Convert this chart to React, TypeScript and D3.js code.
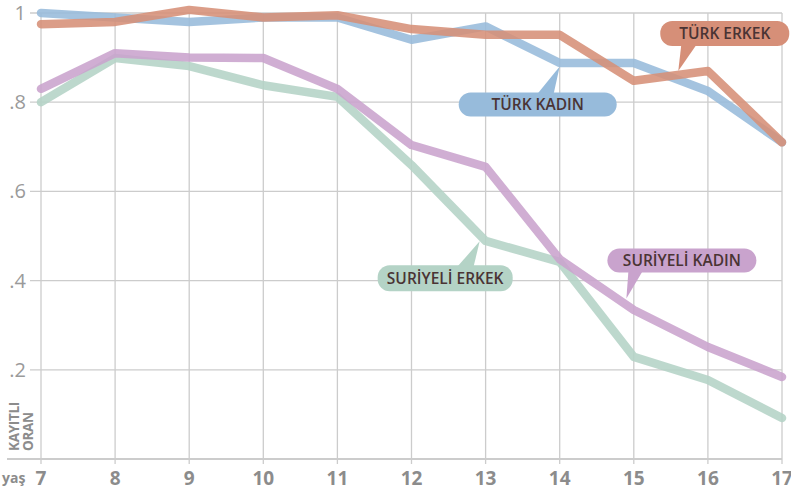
import React, { useEffect, useRef } from 'react';
import * as d3 from 'd3';

const ages = [7, 8, 9, 10, 11, 12, 13, 14, 15, 16, 17];
const turkKadin = [1.0, 0.99, 0.98, 0.99, 0.99, 0.94, 0.97, 0.888, 0.888, 0.825, 0.71];
const turkErkek = [0.975, 0.98, 1.007, 0.99, 0.995, 0.964, 0.951, 0.951, 0.848, 0.87, 0.71];
const suriyeliKadin = [0.83, 0.91, 0.9, 0.899, 0.83, 0.704, 0.655, 0.448, 0.334, 0.251, 0.184];
const suriyeliErkek = [0.8, 0.899, 0.881, 0.838, 0.812, 0.659, 0.489, 0.442, 0.229, 0.177, 0.092];
const yTicks = [0.2, 0.4, 0.6, 0.8, 1];
const yTickLabels = ['.2', '.4', '.6', '.8', '1'];

const series = [
  { name: 'TÜRK KADIN', values: turkKadin, color: '#97bbdb' },
  { name: 'TÜRK ERKEK', values: turkErkek, color: '#d68f78' },
  { name: 'SURİYELİ ERKEK', values: suriyeliErkek, color: '#b4d3c6' },
  { name: 'SURİYELİ KADIN', values: suriyeliKadin, color: '#c9a3cd' },
];

// callouts: tip in data units, box in pixels relative to tip
const callouts = [
  { name: 'TÜRK ERKEK', color: '#d68f78', tip: [15.6, 0.87], box: [-18, -50, 129, 25], base: [3, 18] },
  { name: 'TÜRK KADIN', color: '#97bbdb', tip: [14, 0.88], box: [-101, 26, 158, 24], base: [-22, -6] },
  { name: 'SURİYELİ ERKEK', color: '#b4d3c6', tip: [12.92, 0.488], box: [-102, 24, 135, 26], base: [-22, -6] },
  { name: 'SURİYELİ KADIN', color: '#c9a3cd', tip: [14.9, 0.36], box: [-19, -50, 149, 24], base: [2, 16] },
];

const W = 791;
const H = 493;
const FONT = '"Open Sans", sans-serif';

export default function App() {
  const ref = useRef<SVGSVGElement>(null);

  useEffect(() => {
    const svg = d3.select(ref.current);
    svg.selectAll('*').remove();

    const x = d3.scaleLinear().domain([7, 17]).range([41, 782]);
    const y = d3.scaleLinear().domain([0, 1]).range([459, 13]);

    // grid
    const grid = svg.append('g').attr('stroke', '#cccccc').attr('stroke-width', 1.3);
    grid.selectAll('line.v')
      .data(ages)
      .enter()
      .append('line')
        .attr('x1', (d) => x(d))
        .attr('x2', (d) => x(d))
        .attr('y1', y(1))
        .attr('y2', y(0) + 5);
    grid.selectAll('line.h')
      .data(yTicks)
      .enter()
      .append('line')
        .attr('x1', 30)
        .attr('x2', x(17))
        .attr('y1', (d) => y(d))
        .attr('y2', (d) => y(d));
    grid.append('line')
      .attr('x1', 7)
      .attr('x2', x(17))
      .attr('y1', y(0))
      .attr('y2', y(0))
      .attr('stroke-width', 2);

    // y labels
    svg.append('g')
      .selectAll('text')
      .data(yTicks)
      .enter()
      .append('text')
        .attr('x', 26)
        .attr('y', (d) => y(d) + 7)
        .attr('text-anchor', 'end')
        .attr('font-family', FONT)
        .attr('font-size', 20)
        .attr('fill', '#9a9a9a')
        .text((d, i) => yTickLabels[i]);

    // x labels
    svg.append('g')
      .selectAll('text')
      .data(ages)
      .enter()
      .append('text')
        .attr('x', (d) => x(d))
        .attr('y', 485)
        .attr('text-anchor', 'middle')
        .attr('font-family', FONT)
        .attr('font-weight', 700)
        .attr('font-size', 19)
        .attr('fill', '#8c8c8c')
        .text((d) => d);

    svg.append('text')
      .attr('x', 2)
      .attr('y', 483)
      .attr('font-family', FONT)
      .attr('font-weight', 700)
      .attr('font-size', 14)
      .attr('fill', '#8c8c8c')
      .text('yaş');

    const yl = svg.append('text')
      .attr('transform', 'translate(19,451) rotate(-90)')
      .attr('font-family', FONT)
      .attr('font-weight', 700)
      .attr('font-size', 13.5)
      .attr('letter-spacing', -0.3)
      .attr('fill', '#8c8c8c');
    yl.append('tspan').attr('x', 0).attr('y', 0).text('KAYITLI');
    yl.append('tspan').attr('x', 0).attr('y', 14).text('ORAN');

    // lines
    const line = d3.line<number>()
      .x((d, i) => x(ages[i]))
      .y((d) => y(d));
    svg.append('g')
      .selectAll('path')
      .data(series)
      .enter()
      .append('path')
        .attr('d', (s) => line(s.values))
        .attr('fill', 'none')
        .attr('stroke', (s) => s.color)
        .attr('stroke-width', 8.5)
        .attr('stroke-linejoin', 'round')
        .attr('stroke-linecap', 'round')
        .attr('stroke-opacity', 0.88);

    // callouts
    const c = svg.append('g')
      .selectAll('g')
      .data(callouts)
      .enter()
      .append('g')
        .attr('transform', (d) => `translate(${x(d.tip[0])},${y(d.tip[1])})`);
    c.append('path')
      .attr('d', (d) => {
        const [bx, by, bw, bh] = d.box;
        const [b1, b2] = d.base;
        const edge = by > 0 ? by + 1 : by + bh - 1;
        return `M0,0L${b1},${edge}L${b2},${edge}Z`;
      })
      .attr('fill', (d) => d.color);
    c.append('rect')
      .attr('x', (d) => d.box[0])
      .attr('y', (d) => d.box[1])
      .attr('width', (d) => d.box[2])
      .attr('height', (d) => d.box[3])
      .attr('rx', 12)
      .attr('fill', (d) => d.color);
    c.append('text')
      .attr('x', (d) => d.box[0] + d.box[2] / 2)
      .attr('y', (d) => d.box[1] + d.box[3] / 2 + 5.5)
      .attr('text-anchor', 'middle')
      .attr('font-family', FONT)
      .attr('font-weight', 600)
      .attr('font-size', 15.5)
      .attr('fill', '#4a3434')
      .text((d) => d.name);
  }, []);

  return (
    <svg ref={ref} width={W} height={H} style={{ position: 'absolute', left: 0, top: 0, background: '#fff' }} />
  );
}
